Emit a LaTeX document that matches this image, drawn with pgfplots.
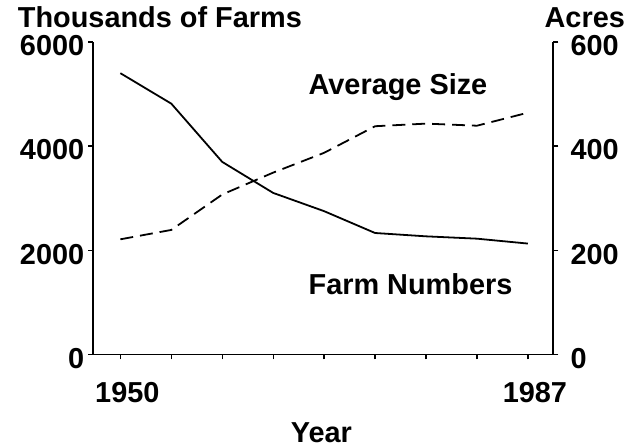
\documentclass[border=0pt]{standalone}
\usepackage{fontspec}
\setmainfont{Liberation Sans}
\usepackage{pgfplots}
\pgfplotsset{compat=1.18}
\begin{document}
\newcommand{\bigf}{\fontsize{29}{34}\selectfont\bfseries}
\begin{tikzpicture}
\begin{axis}[
  name=ax,
  scale only axis, width=462pt, height=314pt,
  xmin=-0.53, xmax=8.5, ymin=0, ymax=6000,
  axis x line*=bottom, axis y line*=left,
  axis line style={-, line width=1.8pt},
  xtick={0,1,2,3,4,5,6,7,8},
  xticklabels={1950,,,,,,,,1987},
  ytick={0,2000,4000,6000},
  yticklabels={0,2000,4000,6000},
  tick align=outside, tick style={line width=1.4pt, black},
  major tick length=5pt,
  /pgf/number format/assume math mode=true,
  ticklabel style={font=\bigf, inner sep=0pt},
  xticklabel style={anchor=north, xshift=7pt, yshift=-23pt},
  yticklabel style={anchor=east, xshift=-4pt, yshift=-4pt},
  clip=false,
]
\addplot[black, line width=1.8pt] coordinates {
  (0,5398) (1,4813) (2,3695) (3,3100) (4,2750) (5,2331) (6,2267) (7,2222) (8,2128)
};
\end{axis}
\begin{axis}[
  scale only axis, width=462pt, height=314pt,
  xmin=-0.53, xmax=8.5, ymin=0, ymax=600,
  axis x line=none, axis y line*=right,
  axis line style={-, line width=1.8pt},
  ytick={0,200,400,600},
  yticklabels={0,200,400,600},
  tick align=outside, tick style={line width=1.4pt, black},
  major tick length=5pt,
  /pgf/number format/assume math mode=true,
  ticklabel style={font=\bigf, inner sep=0pt},
  yticklabel style={anchor=west, xshift=12pt, yshift=-4pt},
  clip=false,
]
\addplot[black, line width=1.8pt, dash pattern=on 13pt off 7pt] coordinates {
  (0,221) (1,239) (2,307) (3,349) (4,387) (5,438) (6,443) (7,439) (8,464)
};
\end{axis}
\node[anchor=base west, inner sep=0pt, font=\bigf] at ([xshift=-76pt, yshift=328pt]ax.south west) {Thousands of Farms};
\node[anchor=base west, inner sep=0pt, font=\bigf] at ([xshift=453pt, yshift=328pt]ax.south west) {Acres};
\node[anchor=base west, inner sep=0pt, font=\bigf] at ([xshift=216pt, yshift=261pt]ax.south west) {Average Size};
\node[anchor=base west, inner sep=0pt, font=\bigf] at ([xshift=216pt, yshift=60pt]ax.south west) {Farm Numbers};
\node[anchor=base, inner sep=0pt, font=\bigf] at ([xshift=229pt, yshift=-88pt]ax.south west) {Year};
\path (ax.south west) ++(-91pt,-93pt) rectangle ++(641pt,449pt);
\end{tikzpicture}
\end{document}
